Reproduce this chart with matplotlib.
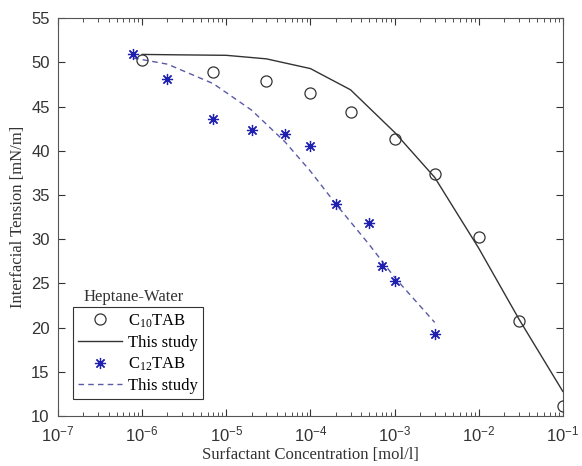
import numpy as np
import matplotlib
matplotlib.use("Agg")
import matplotlib.pyplot as plt

plt.rcParams['mathtext.fontset'] = 'custom'
plt.rcParams['mathtext.rm'] = 'Liberation Serif'
plt.rcParams['mathtext.it'] = 'Liberation Serif:italic'

# experimental data, C10TAB
c10_conc = [1e-6, 7e-6, 3e-5, 1e-4, 3e-4, 1e-3, 3e-3, 1e-2, 3e-2, 1e-1]
c10_ift = [50.3, 48.9, 47.9, 46.5, 44.4, 41.3, 37.4, 30.3, 20.8, 11.2]

# model curve, C10TAB
c10_model_conc = [1e-6, 3e-6, 1e-5, 3e-5, 1e-4, 3e-4, 1e-3, 3e-3, 1e-2, 3e-2, 1e-1]
c10_model_ift = [50.9, 50.85, 50.8, 50.4, 49.3, 46.9, 42.1, 37.0, 29.0, 21.0, 12.8]

# experimental data, C12TAB
c12_conc = [7.8e-7, 2e-6, 7e-6, 2e-5, 5e-5, 1e-4, 2e-4, 5e-4, 7e-4, 1e-3, 3e-3]
c12_ift = [50.9, 48.1, 43.6, 42.4, 41.9, 40.6, 34.0, 31.8, 27.0, 25.3, 19.3]

# model curve, C12TAB
c12_model_conc = [7.8e-7, 2e-6, 7e-6, 2e-5, 5e-5, 1e-4, 2e-4, 5e-4, 7e-4, 1e-3, 3e-3]
c12_model_ift = [50.5, 49.8, 47.6, 44.6, 41.0, 37.7, 34.0, 29.4, 27.6, 25.7, 20.6]

fig = plt.figure(figsize=(5.82, 4.66), dpi=100)
ax = fig.add_axes([0.0997, 0.107, 0.8673, 0.854])

ax.plot(c10_conc, c10_ift, 'o', mfc='none', mec='#333333', ms=8, mew=0.9,
        label=r'C$_{10}$TAB', zorder=3)
ax.plot(c10_model_conc, c10_model_ift, '-', color='#333333', lw=1.0,
        label='This study')
ax.plot(c12_conc, c12_ift, ls='none', marker=(8, 2, 0), color='#2020b0', ms=8,
        mew=0.9, label=r'C$_{12}$TAB', zorder=3)
ax.plot(c12_model_conc, c12_model_ift, '--', color='#5a5aa8', lw=1.0,
        dashes=(4, 3), label='This study')

ax.set_xscale('log')
ax.set_xlim(1e-7, 1e-1)
ax.set_ylim(10, 55)
ax.set_yticks(np.arange(10, 56, 5))
ax.tick_params(which='both', direction='in', top=True, right=True,
               labelsize=12, colors='#333333')
ax.tick_params(which='major', length=5)
ax.tick_params(which='minor', length=3)
ax.tick_params(axis='x', pad=6)
ax.tick_params(axis='y', pad=6)
for lab in ax.get_xticklabels() + ax.get_yticklabels():
    lab.set_family('Liberation Sans')
for sp in ax.spines.values():
    sp.set_color('#555555')
    sp.set_linewidth(0.8)

ax.set_xlabel('Surfactant Concentration [mol/l]', family='Liberation Serif',
              fontsize=12, color='#333333', labelpad=2)
ax.set_ylabel('Interfacial Tension [mN/m]', family='Liberation Serif',
              fontsize=12, color='#333333')

leg = ax.legend(loc='lower left', bbox_to_anchor=(0.03, 0.043),
                fancybox=False, framealpha=1,
                edgecolor='#333333', handlelength=2.6, handletextpad=0.4,
                borderaxespad=0, labelspacing=0.3, borderpad=0.3,
                prop={'family': 'Liberation Serif', 'size': 12})
leg.get_frame().set_linewidth(0.8)
ax.text(0.05, 0.30, 'Heptane-Water', transform=ax.transAxes,
        family='Liberation Serif', fontsize=12, color='#333333',
        ha='left', va='center')

fig.savefig('out.png', dpi=100)
